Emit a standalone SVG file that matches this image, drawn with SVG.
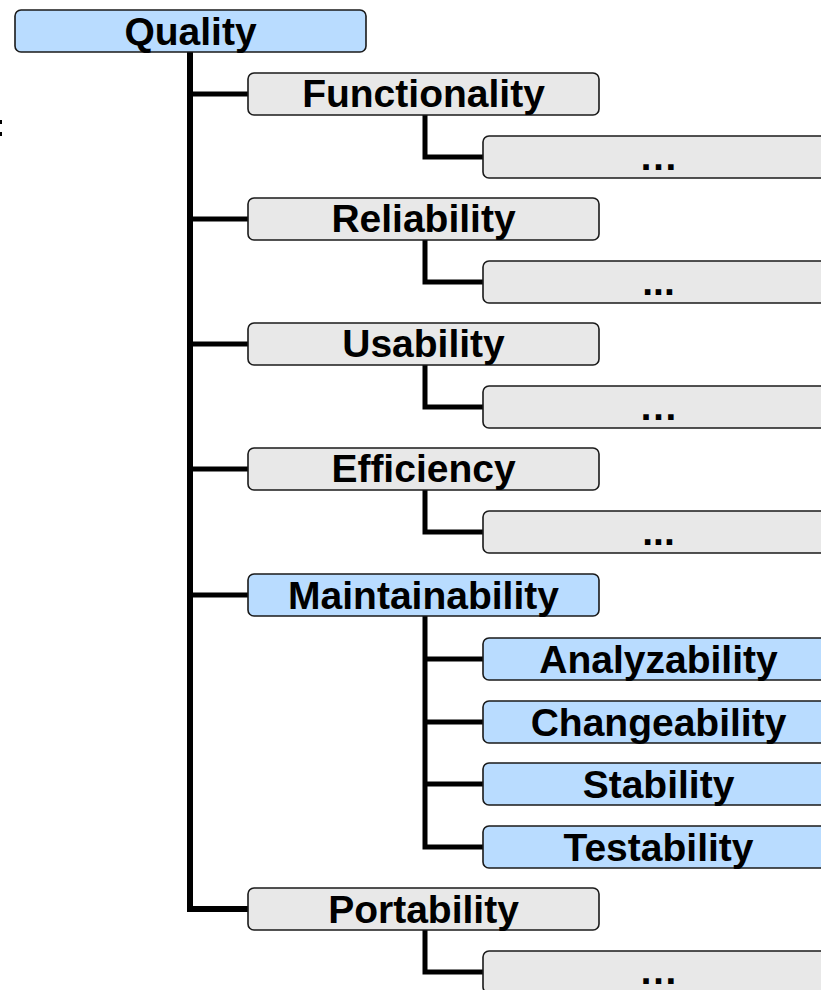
<svg xmlns="http://www.w3.org/2000/svg" width="821" height="990" viewBox="0 0 821 990">
<style>
.box{stroke:#1a1a1a;stroke-width:1.6}
.blue{fill:#b9dcff}
.gray{fill:#e8e8e8}
.lbl{font-family:"Liberation Sans",Arial,sans-serif;font-weight:bold;font-size:39px;fill:#000;text-anchor:middle}
.con{fill:none;stroke:#000;stroke-width:5;stroke-linejoin:miter}
</style>
<rect x="0" y="120" width="2" height="4" fill="#000"/>
<rect x="0" y="132" width="2" height="4" fill="#000"/>
<g id="connectors">
<path class="con" d="M190,52 V909 H248" style="stroke-width:6"/>
<path class="con" d="M190,94 H248 M190,219 H248 M190,344 H248 M190,469 H248 M190,595 H248"/>
<path class="con" d="M425,115 V157 H483"/>
<path class="con" d="M425,240 V282 H483"/>
<path class="con" d="M425,365 V407 H483"/>
<path class="con" d="M425,490 V532 H483"/>
<path class="con" d="M425,616 V847 H483 M425,659 H483 M425,722 H483 M425,784 H483"/>
<path class="con" d="M425,930 V972 H483"/>
</g>
<g id="quality"><rect class="box blue" x="15" y="10" width="351" height="42" rx="6"/><text class="lbl" x="190.5" y="45">Quality</text></g>
<g id="functionality"><rect class="box gray" x="248" y="73" width="351" height="42" rx="6"/><text class="lbl" x="423.5" y="107">Functionality</text></g>
<g id="functionality-sub"><rect class="box gray" x="483" y="136" width="351" height="42" rx="6"/><text class="lbl" x="658.5" y="170">…</text></g>
<g id="reliability"><rect class="box gray" x="248" y="198" width="351" height="42" rx="6"/><text class="lbl" x="423.5" y="232">Reliability</text></g>
<g id="reliability-sub"><rect class="box gray" x="483" y="261" width="351" height="42" rx="6"/><text class="lbl" x="658.5" y="295">...</text></g>
<g id="usability"><rect class="box gray" x="248" y="323" width="351" height="42" rx="6"/><text class="lbl" x="423.5" y="357">Usability</text></g>
<g id="usability-sub"><rect class="box gray" x="483" y="386" width="351" height="42" rx="6"/><text class="lbl" x="658.5" y="420">…</text></g>
<g id="efficiency"><rect class="box gray" x="248" y="448" width="351" height="42" rx="6"/><text class="lbl" x="423.5" y="482">Efficiency</text></g>
<g id="efficiency-sub"><rect class="box gray" x="483" y="511" width="351" height="42" rx="6"/><text class="lbl" x="658.5" y="545">...</text></g>
<g id="maintainability"><rect class="box blue" x="248" y="574" width="351" height="42" rx="6"/><text class="lbl" x="423.5" y="609">Maintainability</text></g>
<g id="analyzability"><rect class="box blue" x="483" y="638" width="351" height="42" rx="6"/><text class="lbl" x="658.5" y="673">Analyzability</text></g>
<g id="changeability"><rect class="box blue" x="483" y="701" width="351" height="42" rx="6"/><text class="lbl" x="658.5" y="736">Changeability</text></g>
<g id="stability"><rect class="box blue" x="483" y="763" width="351" height="42" rx="6"/><text class="lbl" x="658.5" y="798">Stability</text></g>
<g id="testability"><rect class="box blue" x="483" y="826" width="351" height="42" rx="6"/><text class="lbl" x="658.5" y="861">Testability</text></g>
<g id="portability"><rect class="box gray" x="248" y="888" width="351" height="42" rx="6"/><text class="lbl" x="423.5" y="923">Portability</text></g>
<g id="portability-sub"><rect class="box gray" x="483" y="951" width="351" height="42" rx="6"/><text class="lbl" x="658.5" y="984">…</text></g>
</svg>
